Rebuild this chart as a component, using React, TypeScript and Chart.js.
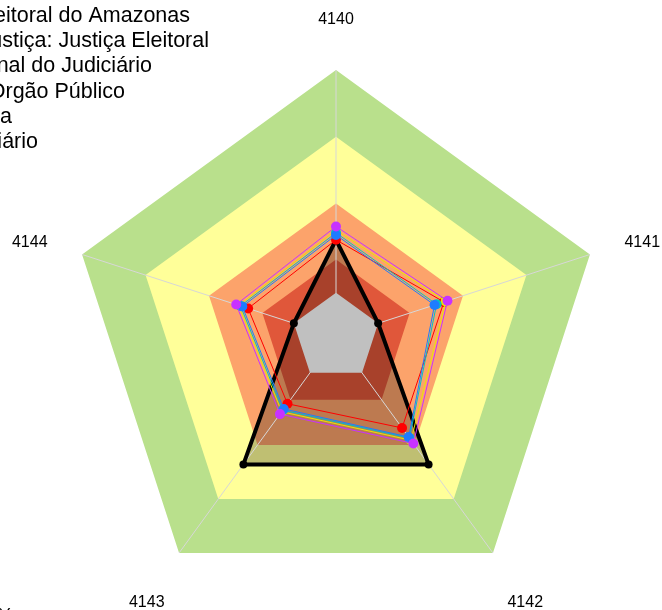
import React, { useEffect, useRef } from "react";
import Chart from "chart.js/auto";

// ---- data ----
const categories = ["4140", "4141", "4142", "4143", "4144"];

const bandGreen = [100, 100, 100, 100, 100];
const bandYellow = [75, 75, 75, 75, 75];
const bandOrange = [50, 50, 50, 50, 50];
const bandRed = [29, 29, 29, 29, 29];
const bandGray = [16.6, 16.6, 16.6, 16.6, 16.6];

const seriesTre = [36.4, 16.6, 59, 59, 16.6];
const seriesRed = [36.4, 42.5, 42.1, 30.9, 34.6];
const seriesYellow = [40.0, 43.2, 47.8, 34.6, 38.3];
const seriesCyan = [39.0, 39.6, 46.8, 33.9, 37.6];
const seriesBlue = [38.2, 38.8, 46.3, 33.3, 36.9];
const seriesMagenta = [41.4, 43.9, 49.3, 35.7, 39.3];

const legendLabels = [
  "Tribunal Regional Eleitoral do Amazonas",
  "Segmento de Justiça: Justiça Eleitoral",
  "Média Nacional do Judiciário",
  "Média do Orgão Público",
  "Mesma Faixa",
  "Poder Judiciário",
];
const footLabel = "Escala de 0% a 100%";

const FONT = '"Liberation Sans", Arial, sans-serif';

export default function App() {
  const canvasRef = useRef<HTMLCanvasElement | null>(null);

  useEffect(() => {
    const canvas = canvasRef.current;
    if (!canvas) return;

    const BLACK_FILL_INDEX = 4;

    const angleLinesPlugin = {
      id: "angleLinesOver",
      afterDatasetDraw(chart: any, args: any) {
        if (args.index !== BLACK_FILL_INDEX) return;
        const scale = chart.scales.r;
        const c = chart.ctx;
        c.save();
        c.strokeStyle = "#d7d7d7";
        c.lineWidth = 1;
        for (let i = 0; i < categories.length; i++) {
          const p = scale.getPointPositionForValue(i, scale.max);
          c.beginPath();
          c.moveTo(scale.xCenter, scale.yCenter);
          c.lineTo(p.x, p.y);
          c.stroke();
        }
        c.restore();
      },
    };

    const labelsPlugin = {
      id: "labelsAndLegend",
      afterDraw(chart: any) {
        const scale = chart.scales.r;
        const c = chart.ctx;
        c.save();
        c.fillStyle = "#000";
        c.font = `16px ${FONT}`;
        c.textAlign = "center";
        c.textBaseline = "middle";
        for (let i = 0; i < categories.length; i++) {
          const p = scale.getPointPosition(i, scale.drawingArea + 55);
          c.fillText(categories[i], p.x, p.y + 5);
        }
        // legend (cut off at the left edge as in the reference)
        c.font = `21.5px ${FONT}`;
        c.textAlign = "right";
        c.textBaseline = "alphabetic";
        const ends = [190, 209, 152, 125, 12, 38];
        for (let i = 0; i < legendLabels.length; i++) {
          c.fillText(legendLabels[i], ends[i], 22 + i * 25.2);
        }
        c.fillText(footLabel, 14, 623);
        c.restore();
      },
    };

    const band = (label: string, data: number[], color: string, order: number) => ({
      label,
      data,
      backgroundColor: color,
      borderWidth: 0,
      borderColor: "rgba(0,0,0,0)",
      pointRadius: 0,
      fill: true,
      order,
    });

    const series = (label: string, data: number[], color: string, order: number) => ({
      label,
      data,
      borderColor: color,
      backgroundColor: color,
      borderWidth: 1,
      pointRadius: 5,
      pointBorderWidth: 0,
      pointBackgroundColor: color,
      fill: false,
      order,
    });

    const chart = new Chart(canvas, {
      type: "radar",
      data: {
        labels: categories,
        datasets: [
          band("Faixa 100", bandGreen, "#b9e08c", 20),
          band("Faixa 75", bandYellow, "#ffff99", 19),
          band("Faixa 50", bandOrange, "#fca36b", 18),
          band("Faixa 29", bandRed, "#e0573a", 17),
          {
            label: "TRE fill",
            data: seriesTre,
            backgroundColor: "rgba(0,0,0,0.25)",
            borderWidth: 0,
            borderColor: "rgba(0,0,0,0)",
            pointRadius: 0,
            fill: true,
            order: 16,
          },
          band("Centro", bandGray, "#c0c0c0", 15),
          {
            label: legendLabels[0],
            data: seriesTre,
            borderColor: "#000000",
            backgroundColor: "#000000",
            borderWidth: 4,
            pointRadius: 4,
            pointBorderWidth: 0,
            pointBackgroundColor: "#000000",
            fill: false,
            order: 14,
          },
          series(legendLabels[1], seriesRed, "#ff0000", 5),
          series(legendLabels[2], seriesYellow, "#e8e800", 4),
          series(legendLabels[3], seriesCyan, "#00c4c4", 3),
          series(legendLabels[4], seriesBlue, "#1e7cff", 2),
          series(legendLabels[5], seriesMagenta, "#c832ff", 1),
        ],
      },
      options: {
        responsive: false,
        animation: false,
        devicePixelRatio: 1,
        layout: { padding: { left: 69, right: 59, top: 70, bottom: 6 } },
        elements: { line: { tension: 0 } },
        plugins: {
          legend: { display: false },
          tooltip: { enabled: false },
          title: { display: false },
        },
        scales: {
          r: {
            min: 0,
            max: 100,
            ticks: { display: false },
            grid: { display: false },
            angleLines: { display: false },
            pointLabels: { display: false },
          },
        },
      },
      plugins: [angleLinesPlugin, labelsPlugin],
    } as any);

    return () => chart.destroy();
  }, []);

  return (
    <div style={{ position: "fixed", left: 0, top: 0, width: 662, height: 610, background: "#fff" }}>
      <canvas ref={canvasRef} width={662} height={610} style={{ display: "block", width: 662, height: 610 }} />
    </div>
  );
}
